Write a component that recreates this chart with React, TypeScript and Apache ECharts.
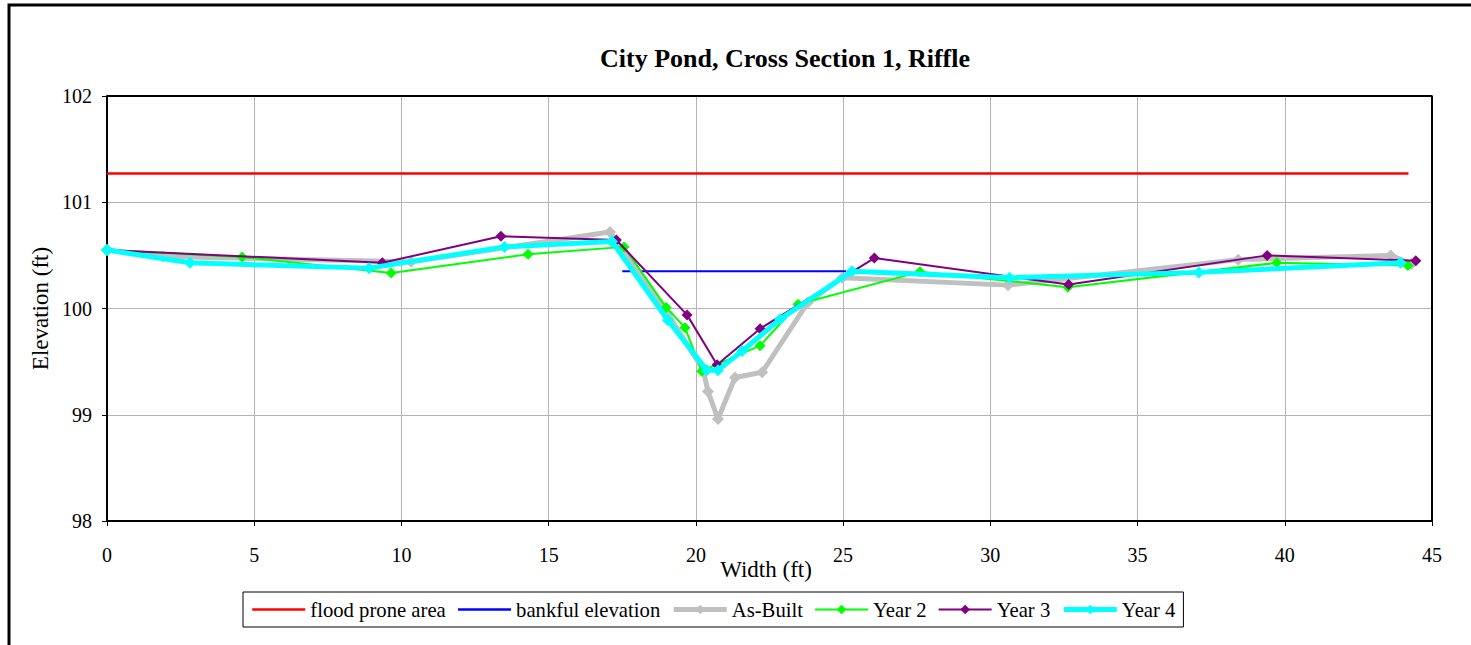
import React, { useEffect, useRef } from "react";
import * as echarts from "echarts";

const floodX = [0, 44.2];
const floodY = [101.27, 101.27];
const bankfulX = [17.5, 25.1];
const bankfulY = [100.35, 100.35];

const asBuiltX = [0, 1.9, 10.33, 17.08, 19.05, 20.25, 20.41, 20.75, 21.33, 22.25, 23.81, 24.97, 30.6, 38.42, 43.6, 44.3];
const asBuiltY = [100.55, 100.49, 100.44, 100.72, 99.95, 99.42, 99.22, 98.96, 99.35, 99.4, 100.06, 100.29, 100.22, 100.46, 100.5, 100.42];

const year2X = [0, 4.59, 9.65, 14.3, 17.56, 18.99, 19.63, 20.2, 22.18, 23.47, 27.61, 32.63, 39.73, 44.18];
const year2Y = [100.55, 100.485, 100.335, 100.51, 100.58, 100.01, 99.82, 99.41, 99.65, 100.04, 100.345, 100.2, 100.43, 100.405];

const year3X = [0, 9.35, 13.38, 17.3, 19.7, 20.72, 22.18, 26.06, 32.66, 39.4, 44.45];
const year3Y = [100.55, 100.43, 100.68, 100.645, 99.94, 99.47, 99.81, 100.475, 100.225, 100.5, 100.45];

const year4X = [0, 2.82, 8.9, 13.5, 17.15, 19.05, 20.37, 20.75, 21.57, 22.86, 25.3, 30.65, 37.08, 43.93];
const year4Y = [100.55, 100.43, 100.38, 100.58, 100.63, 99.89, 99.42, 99.42, 99.6, 99.9, 100.35, 100.29, 100.34, 100.43];

const xTicks = [0, 5, 10, 15, 20, 25, 30, 35, 40, 45];
const yTicks = [98, 99, 100, 101, 102];

const zip = (xs: number[], ys: number[]) => xs.map((x, i) => [x, ys[i]]);

const FONT = "Liberation Serif";

export default function App() {
  const ref = useRef<HTMLDivElement>(null);
  useEffect(() => {
    if (!ref.current) return;
    const chart = echarts.init(ref.current, undefined, { renderer: "svg" });
    const lineSeries = (name: string, xs: number[], ys: number[], color: string, width: number, sym: number, z: number) => ({
      name,
      type: "line",
      data: zip(xs, ys),
      symbol: sym > 0 ? "diamond" : "none",
      symbolSize: sym,
      showSymbol: sym > 0,
      lineStyle: { color, width },
      itemStyle: { color },
      z,
    });
    chart.setOption({
      animation: false,
      backgroundColor: "#ffffff",
      textStyle: { fontFamily: FONT },
      title: {
        text: "City Pond, Cross Section 1, Riffle",
        left: 780,
        textAlign: "center",
        top: 40,
        textStyle: { fontFamily: FONT, fontSize: 26, fontWeight: "bold", color: "#000" },
      },
      graphic: [
        {
          type: "rect",
          shape: { x: 9, y: 5, width: 1520, height: 700 },
          style: { fill: "none", stroke: "#000", lineWidth: 3 },
          silent: true,
        },
      ],
      legend: {
        left: 243,
        top: 592,
        padding: [7, 8, 7, 8],
        borderColor: "#000",
        borderWidth: 1,
        itemWidth: 53,
        itemHeight: 12,
        itemGap: 11,
        textStyle: { fontFamily: FONT, fontSize: 20.7, color: "#000" },
        data: [
          { name: "flood prone area", itemStyle: { opacity: 0 }, lineStyle: { width: 2.5 } },
          { name: "bankful elevation", itemStyle: { opacity: 0 }, lineStyle: { width: 2.5 } },
          { name: "As-Built", lineStyle: { width: 5 } },
          { name: "Year 2", lineStyle: { width: 2 } },
          { name: "Year 3", lineStyle: { width: 2 } },
          { name: "Year 4", lineStyle: { width: 5 } },
        ],
      },
      grid: { left: 107, top: 96, right: 39, bottom: 124, containLabel: false },
      xAxis: {
        type: "value",
        min: xTicks[0],
        max: xTicks[xTicks.length - 1],
        interval: 5,
        name: "Width (ft)",
        nameLocation: "middle",
        nameGap: 37,
        nameMoveOverlap: false,
        nameTextStyle: { fontFamily: FONT, fontSize: 23, color: "#000", padding: [0, 7, 0, 0] },
        axisLine: { show: true, onZero: false, lineStyle: { color: "#000", width: 2 } },
        axisTick: { show: true, length: 5, lineStyle: { color: "#000", width: 1 } },
        axisLabel: { fontFamily: FONT, fontSize: 20, color: "#000", margin: 24 },
        splitLine: { show: true, lineStyle: { color: "#b4b4b4", width: 1 } },
      },
      yAxis: {
        type: "value",
        min: yTicks[0],
        max: yTicks[yTicks.length - 1],
        interval: 1,
        name: "Elevation (ft)",
        nameLocation: "middle",
        nameGap: 55,
        nameMoveOverlap: false,
        nameRotate: 90,
        nameTextStyle: { fontFamily: FONT, fontSize: 23, color: "#000" },
        axisLine: { show: true, lineStyle: { color: "#000", width: 2 } },
        axisTick: { show: true, length: 5, lineStyle: { color: "#000", width: 1 } },
        axisLabel: { fontFamily: FONT, fontSize: 20, color: "#000", margin: 15 },
        splitLine: { show: true, lineStyle: { color: "#b4b4b4", width: 1 } },
      },
      series: [
        lineSeries("flood prone area", floodX, floodY, "#ff0000", 2.5, 0, 2),
        lineSeries("bankful elevation", bankfulX, bankfulY, "#0000ff", 2, 0, 3),
        lineSeries("As-Built", asBuiltX, asBuiltY, "#c0c0c0", 5, 12, 4),
        lineSeries("Year 2", year2X, year2Y, "#00ff00", 2, 11, 5),
        lineSeries("Year 3", year3X, year3Y, "#800080", 2, 11, 6),
        lineSeries("Year 4", year4X, year4Y, "#00ffff", 5, 12, 7),
        {
          type: "line",
          data: [[45, 98], [45, 102], [0, 102]],
          symbol: "none",
          lineStyle: { color: "#000", width: 2 },
          silent: true,
          z: 1,
        },
      ],
    });
    return () => chart.dispose();
  }, []);
  return <div ref={ref} style={{ position: "absolute", left: 0, top: 0, width: 1471, height: 645 }} />;
}
